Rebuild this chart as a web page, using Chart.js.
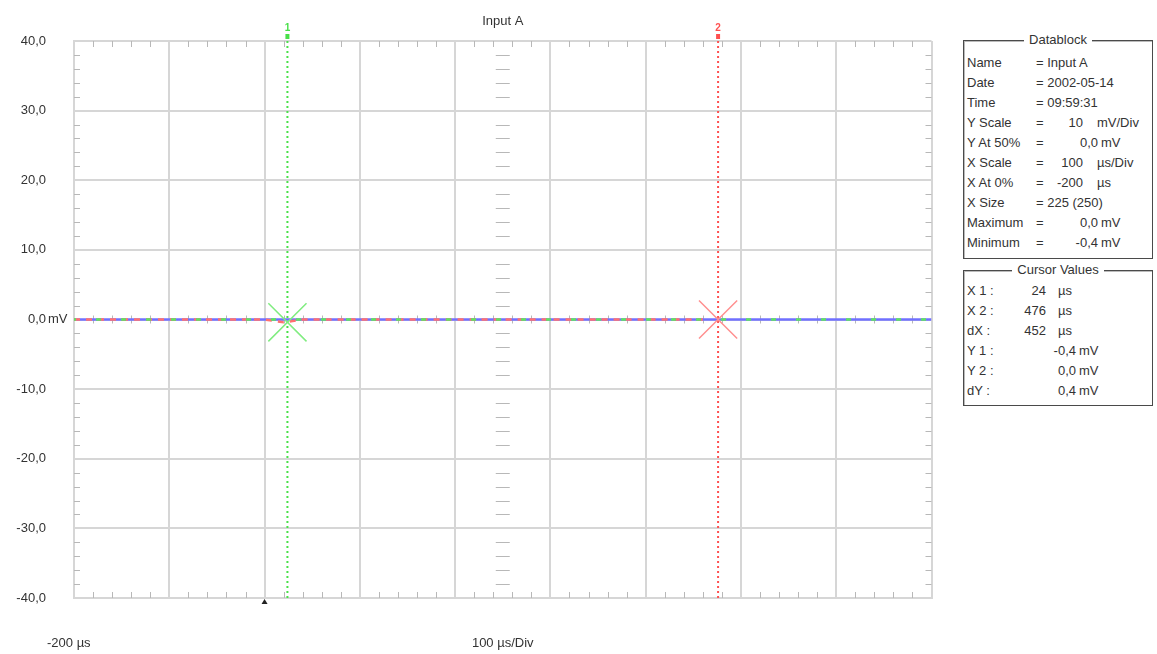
<!DOCTYPE html>
<html lang="en">
<head>
<meta charset="UTF-8" />
<title>Input A</title>
<script src="https://cdn.jsdelivr.net/npm/chart.js"></script>
<style>
  body { margin:0; background:#fff; width:1157px; height:654px; overflow:hidden; position:relative;
         font-family:"Liberation Sans", Arial, sans-serif; font-size:13px; color:#333; }
  #scope { position:absolute; left:0; top:0; }
  .box { position:absolute; left:963px; width:188px; border:1px solid #4a4a4a; box-shadow: inset 1px 1px 0 #bbb; }
  .cap { position:absolute; top:-9px; left:0; right:0; text-align:center; line-height:16px; }
  .cap span { background:#fff; padding:0 5px; }
  .t { position:absolute; line-height:16px; white-space:pre; }
</style>
</head>
<body>
  <canvas id="scope" width="960" height="654"></canvas>

  <div class="box" style="top:40px;height:217px;"><div class="cap"><span>Datablock</span></div></div>
  <div class="t" style="left:967px;top:55px">Name</div><div class="t" style="left:1036px;top:55px">= Input A</div>
  <div class="t" style="left:967px;top:75px">Date</div><div class="t" style="left:1036px;top:75px">= 2002-05-14</div>
  <div class="t" style="left:967px;top:95px">Time</div><div class="t" style="left:1036px;top:95px">= 09:59:31</div>
  <div class="t" style="left:967px;top:115px">Y Scale</div><div class="t" style="left:1036px;top:115px">=</div>
  <div class="t" style="right:74px;top:115px">10</div><div class="t" style="left:1097px;top:115px">mV/Div</div>
  <div class="t" style="left:967px;top:135px">Y At 50%</div><div class="t" style="left:1036px;top:135px">=</div>
  <div class="t" style="right:59px;top:135px">0,0</div><div class="t" style="left:1101px;top:135px">mV</div>
  <div class="t" style="left:967px;top:155px">X Scale</div><div class="t" style="left:1036px;top:155px">=</div>
  <div class="t" style="right:74px;top:155px">100</div><div class="t" style="left:1097px;top:155px">µs/Div</div>
  <div class="t" style="left:967px;top:175px">X At 0%</div><div class="t" style="left:1036px;top:175px">=</div>
  <div class="t" style="right:74px;top:175px">-200</div><div class="t" style="left:1097px;top:175px">µs</div>
  <div class="t" style="left:967px;top:195px">X Size</div><div class="t" style="left:1036px;top:195px">= 225 (250)</div>
  <div class="t" style="left:967px;top:215px">Maximum</div><div class="t" style="left:1036px;top:215px">=</div>
  <div class="t" style="right:59px;top:215px">0,0</div><div class="t" style="left:1101px;top:215px">mV</div>
  <div class="t" style="left:967px;top:235px">Minimum</div><div class="t" style="left:1036px;top:235px">=</div>
  <div class="t" style="right:59px;top:235px">-0,4</div><div class="t" style="left:1101px;top:235px">mV</div>

  <div class="box" style="top:270px;height:134px;"><div class="cap"><span>Cursor Values</span></div></div>
  <div class="t" style="left:967px;top:283px">X 1 :</div><div class="t" style="right:111px;top:283px">24</div><div class="t" style="left:1058px;top:283px">µs</div>
  <div class="t" style="left:967px;top:303px">X 2 :</div><div class="t" style="right:111px;top:303px">476</div><div class="t" style="left:1058px;top:303px">µs</div>
  <div class="t" style="left:967px;top:323px">dX :</div><div class="t" style="right:111px;top:323px">452</div><div class="t" style="left:1058px;top:323px">µs</div>
  <div class="t" style="left:967px;top:343px">Y 1 :</div><div class="t" style="right:81px;top:343px">-0,4</div><div class="t" style="left:1079px;top:343px">mV</div>
  <div class="t" style="left:967px;top:363px">Y 2 :</div><div class="t" style="right:81px;top:363px">0,0</div><div class="t" style="left:1079px;top:363px">mV</div>
  <div class="t" style="left:967px;top:383px">dY :</div><div class="t" style="right:81px;top:383px">0,4</div><div class="t" style="left:1079px;top:383px">mV</div>

<script>
// sample times (µs) and the three overlaid traces (mV)
const sampleTimes = [
  -200,-180,-160,-140,-120,-100,-80,-60,-40,-20,
  0,20,40,60,80,100,120,140,160,180,
  200,220,240,260,280,300,320,340,360,380,
  400,420,440,460,480,500,520,540,560,580,
  600,620,640,660,680,700
];
const blueTrace = [
  0,0,0,0,0,0,0,0,0,0,
  0,0,0,0,0,0,0,0,0,0,
  0,0,0,0,0,0,0,0,0,0,
  0,0,0,0,0,0,0,0,0,0,
  0,0,0,0,0,0
];
const redTrace = [
  0,0,0,0,0,0,0,0,0,0,
  0,-0.4,0,0,0,0,0,0,0,0,
  0,0,0,0,0,0,0,0,0,0,
  0,0,0,0,null,null,null,null,null,null,
  null,null,null,null,null,null
];
const greenTrace = [
  0,0,0,0,0,0,0,0,0,0,
  0,0,0,0,0,0,0,0,0,0,
  0,0,0,0,0,0,0,0,0,0,
  0,0,0,0,0,0,0,0,0,0,
  0,0,0,0,0,0
];

const xGrid = [-200,-100,0,100,200,300,400,500,600,700];
const yTicks = [-40,-30,-20,-10,0,10,20,30,40];

const cursorNames = ['1','2'];
const cursorTimes = [24, 476];
const cursorLevels = [-0.4, 0.0];
const cursorColors = ['#48e048','#ff5050'];
const crossColors = ['#80ec80','#ff9090'];
const triggerTime = 0;

const gridColor = '#d6d6d6';
const font = 'Liberation Sans';

const pts = arr => sampleTimes.map((t, i) => ({ x: t, y: arr[i] }));

const datasets = [
  { data: pts(greenTrace), borderColor: '#5fe25f', borderWidth: 2.5, borderDash: [5, 20], borderDashOffset: 3, order: 1 },
  { data: pts(redTrace), borderColor: '#ff7070', borderWidth: 2.5, borderDash: [6, 6], order: 2 },
  { data: pts(blueTrace), borderColor: '#7070ff', borderWidth: 2.5, order: 3 }
];
cursorTimes.forEach((t, i) => {
  datasets.push({ data: [{ x: t, y: -40 }, { x: t, y: 40 }], borderColor: cursorColors[i],
    borderWidth: 2, borderDash: [2, 3], order: 5 });
  datasets.push({ type: 'scatter', data: [{ x: t, y: cursorLevels[i] }], pointStyle: 'crossRot',
    pointRadius: 27, borderColor: crossColors[i], borderWidth: 1.5, showLine: false, order: 0 });
});
datasets.forEach(d => { d.pointRadius = d.pointRadius || 0; d.fill = false; });

const scopeDecor = {
  id: 'scopeDecor',
  beforeDatasetsDraw(chart) {
    const { ctx, chartArea: a, scales: { x, y } } = chart;
    ctx.save();
    ctx.strokeStyle = '#b8b8b8';
    ctx.lineWidth = 1;
    const y0 = y.getPixelForValue(0), xc = x.getPixelForValue(250);
    ctx.beginPath();
    for (let t = -200; t <= 700; t += 20) {
      if (t % 100 === 0) continue;
      const px = Math.round(x.getPixelForValue(t)) + 0.5;
      ctx.moveTo(px, a.top); ctx.lineTo(px, a.top + 6);
      ctx.moveTo(px, a.bottom); ctx.lineTo(px, a.bottom - 6);
      ctx.moveTo(px, y0 - 4); ctx.lineTo(px, y0 + 4);
    }
    for (let v = -40; v <= 40; v += 2) {
      if (v % 10 === 0) continue;
      const py = Math.round(y.getPixelForValue(v)) + 0.5;
      ctx.moveTo(a.left, py); ctx.lineTo(a.left + 6, py);
      ctx.moveTo(a.right, py); ctx.lineTo(a.right - 6, py);
      ctx.moveTo(xc - 7, py); ctx.lineTo(xc + 7, py);
    }
    ctx.stroke();
    ctx.restore();
  },
  afterDraw(chart) {
    const { ctx, chartArea: a, scales: { x, y } } = chart;
    ctx.save();
    ctx.fillStyle = '#333';
    ctx.font = '13px "' + font + '"';
    ctx.textBaseline = 'middle';
    // unit after the zero label
    ctx.textAlign = 'left';
    ctx.fillText('mV', 48, y.getPixelForValue(0));
    // title and bottom labels
    ctx.textAlign = 'center';
    ctx.fillText('Input A', (a.left + a.right) / 2, 21);
    ctx.fillText('100 µs/Div', (a.left + a.right) / 2, 643);
    ctx.textAlign = 'left';
    ctx.fillText('-200 µs', a.left - 27, 643);
    // trigger marker
    const tx = x.getPixelForValue(triggerTime);
    ctx.beginPath();
    ctx.moveTo(tx, a.bottom + 1); ctx.lineTo(tx + 3, a.bottom + 6); ctx.lineTo(tx - 3, a.bottom + 6);
    ctx.closePath();
    ctx.fillStyle = '#222';
    ctx.fill();
    // cursor tags
    ctx.font = 'bold 10px "' + font + '"';
    ctx.textAlign = 'center';
    cursorTimes.forEach((t, i) => {
      const cx = x.getPixelForValue(t);
      ctx.fillStyle = cursorColors[i];
      ctx.fillText(cursorNames[i], cx, 28);
      ctx.fillRect(cx - 2, 34, 4, 5);
    });
    ctx.restore();
  }
};

new Chart(document.getElementById('scope'), {
  type: 'line',
  data: { datasets },
  options: {
    responsive: false,
    animation: false,
    events: [],
    layout: { padding: { top: 41, bottom: 56, left: 0, right: 28 } },
    plugins: { legend: { display: false }, tooltip: { enabled: false }, title: { display: false } },
    elements: { line: { tension: 0 } },
    scales: {
      x: {
        type: 'linear', min: -200, max: 700,
        afterBuildTicks: s => { s.ticks = xGrid.map(v => ({ value: v })); },
        afterFit: s => { s.height = 0; },
        grid: { color: gridColor, lineWidth: 2, drawTicks: false },
        border: { color: gridColor, width: 2 },
        ticks: { display: false }
      },
      y: {
        type: 'linear', min: -40, max: 40,
        afterBuildTicks: s => { s.ticks = yTicks.map(v => ({ value: v })); },
        afterFit: s => { s.width = 74; },
        grid: { color: gridColor, lineWidth: 2, drawTicks: false },
        border: { color: gridColor, width: 2 },
        ticks: {
          padding: 28, color: '#333', font: { family: font, size: 13 },
          callback: v => v.toFixed(1).replace('.', ',')
        }
      }
    }
  },
  plugins: [scopeDecor]
});
</script>
</body>
</html>
